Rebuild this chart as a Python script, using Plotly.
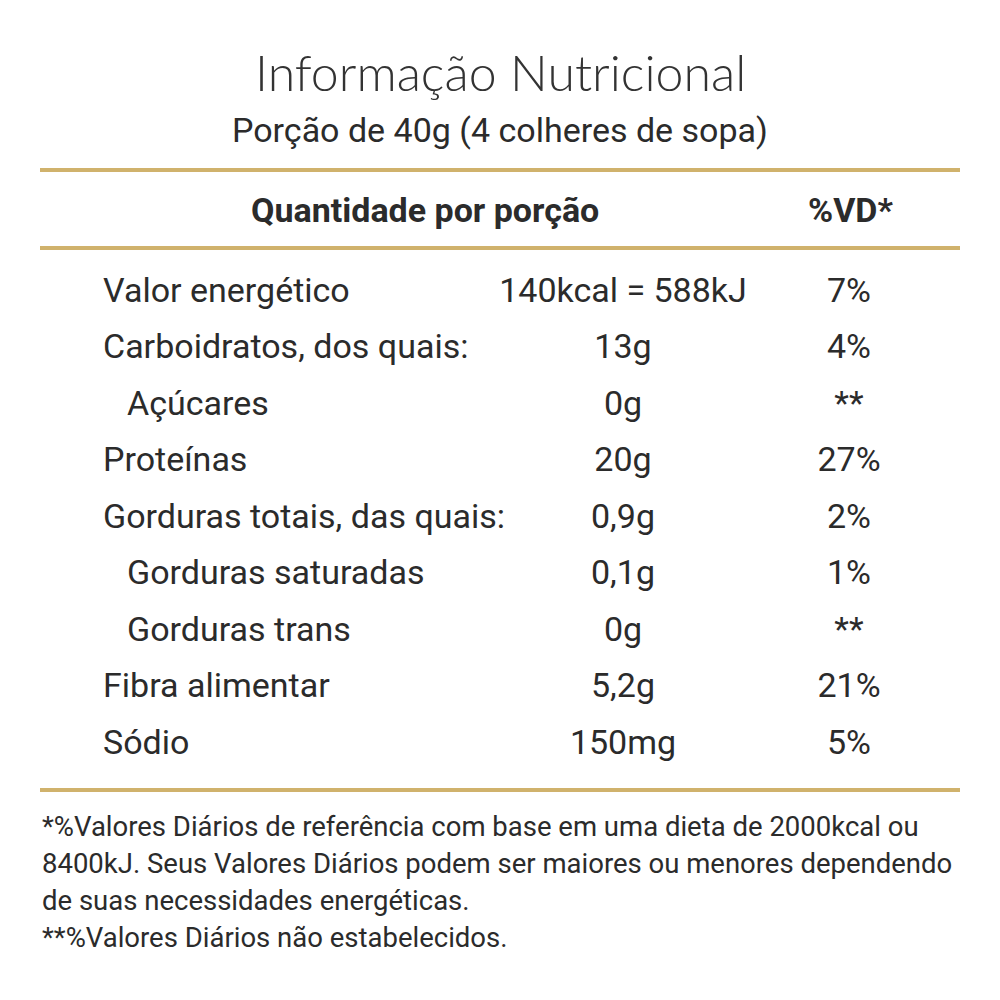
import plotly.graph_objects as go

# table data
nutrients = ["Valor energético", "Carboidratos, dos quais:", "Açúcares", "Proteínas",
             "Gorduras totais, das quais:", "Gorduras saturadas", "Gorduras trans",
             "Fibra alimentar", "Sódio"]
indented = [False, False, True, False, False, True, True, False, False]
amounts = ["140kcal = 588kJ", "13g", "0g", "20g", "0,9g", "0,1g", "0g", "5,2g", "150mg"]
daily_values = ["7%", "4%", "**", "27%", "2%", "1%", "**", "21%", "5%"]
footnotes = [
    "*%Valores Diários de referência com base em uma dieta de 2000kcal ou",
    "8400kJ. Seus Valores Diários podem ser maiores ou menores dependendo",
    "de suas necessidades energéticas.",
    "**%Valores Diários não estabelecidos.",
]

FONT = "Liberation Sans Narrow, Roboto, sans-serif"
TXT = "#2b2b2b"
GOLD = "#d0b26c"
D = 8  # page offset compensation

row_y = [293 - D + i * 56.5 for i in range(len(nutrients))]
label_x = [(127 if ind else 103) - D for ind in indented]

fig = go.Figure()
fig.add_trace(go.Scatter(x=label_x, y=row_y, mode="text", text=nutrients,
                         textposition="middle right",
                         textfont=dict(family=FONT, size=34, color=TXT)))
fig.add_trace(go.Scatter(x=[623 - D] * len(amounts), y=row_y, mode="text", text=amounts,
                         textposition="middle center",
                         textfont=dict(family=FONT, size=34, color=TXT)))
fig.add_trace(go.Scatter(x=[849 - D] * len(daily_values), y=row_y, mode="text", text=daily_values,
                         textposition="middle center",
                         textfont=dict(family=FONT, size=34, color=TXT)))

for y in [170, 248, 790]:
    fig.add_shape(type="line", x0=40 - D, x1=960 - D, y0=y - D, y1=y - D,
                  line=dict(color=GOLD, width=4))

fig.add_annotation(x=500 - D, y=72 - D, text="Informação Nutricional", showarrow=False,
                   font=dict(family="Lato Light, Lato, Noto Sans, sans-serif", size=50,
                             color="#333", weight=300),
                   xanchor="center", yanchor="middle")
fig.add_annotation(x=500 - D, y=130 - D, text="Porção de 40g (4 colheres de sopa)", showarrow=False,
                   font=dict(family=FONT, size=34, color=TXT))
fig.add_annotation(x=425 - D, y=210 - D, text="<b>Quantidade por porção</b>", showarrow=False,
                   font=dict(family=FONT, size=34, color=TXT))
fig.add_annotation(x=850 - D, y=210 - D, text="<b>%VD*</b>", showarrow=False,
                   font=dict(family=FONT, size=34, color=TXT))
for i, line in enumerate(footnotes):
    fig.add_annotation(x=40 - D, y=826 - D + i * 37, text=line, showarrow=False, xanchor="left",
                       font=dict(family=FONT, size=27.5, color=TXT))

fig.update_layout(width=1000, height=1000, margin=dict(l=0, r=0, t=0, b=0),
                  paper_bgcolor="white", plot_bgcolor="white", showlegend=False,
                  xaxis=dict(range=[0, 1000], visible=False, fixedrange=True),
                  yaxis=dict(range=[1000, 0], visible=False, fixedrange=True))
fig.write_html("out.html")
